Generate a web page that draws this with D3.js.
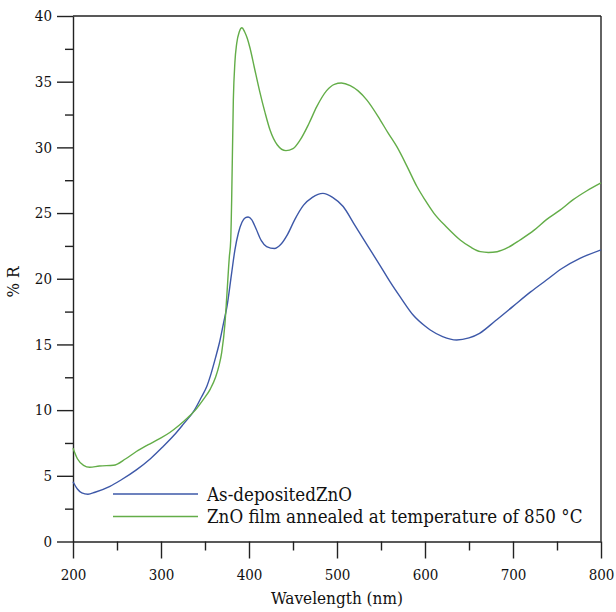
<!DOCTYPE html>
<html>
<head>
<meta charset="utf-8">
<script src="https://cdn.jsdelivr.net/npm/d3@7"></script>
<style>
  body { margin: 0; background: #fff; }
  .tick text { font-size: 15px; fill: #111; }
  .domain, .tick line { stroke: #222; stroke-width: 1.4; }
</style>
</head>
<body>
<svg width="616" height="612"></svg>
<script>
// As-deposited ZnO
const asDepWl = [200, 205, 210, 217, 225, 242, 255, 272, 288, 302, 315, 325, 338, 346, 352, 357, 362, 367, 371, 375, 380, 384, 388, 392, 396, 399, 403, 408, 414, 420, 429, 436, 444, 452, 462, 472, 484, 495, 507, 520, 534, 549, 560, 572, 587, 600, 606, 620, 636, 650, 662, 680, 700, 720, 738, 756, 776, 800];
const asDepR = [4.55, 4.0, 3.7, 3.6, 3.75, 4.2, 4.7, 5.45, 6.3, 7.2, 8.1, 8.9, 10.0, 11.0, 11.8, 12.8, 14.0, 15.3, 16.6, 17.9, 20.3, 22.2, 23.5, 24.3, 24.65, 24.7, 24.5, 23.8, 22.9, 22.45, 22.3, 22.6, 23.4, 24.5, 25.6, 26.2, 26.5, 26.2, 25.5, 24.1, 22.6, 21.0, 19.8, 18.6, 17.2, 16.4, 16.1, 15.6, 15.34, 15.5, 15.85, 16.8, 17.9, 19.0, 19.9, 20.8, 21.55, 22.2];

// annealed at 850 °C
const annWl = [200, 205, 212, 219, 230, 246, 260, 272, 285, 299, 310, 321, 330, 339, 348, 356, 362, 366, 369, 372.7, 374.7, 377.7, 379.2, 380.3, 382.2, 384, 386, 389, 392, 395, 398, 401, 406, 412, 418, 424, 432, 442, 450, 458, 468, 477, 488, 497, 505, 515, 524, 534, 549, 558, 568, 580, 591, 600, 610, 625, 640, 652, 663, 672, 682, 695, 708, 724, 738, 753, 768, 784, 800];
const annR = [7.1, 6.3, 5.8, 5.65, 5.75, 5.8, 6.3, 6.85, 7.35, 7.85, 8.3, 8.87, 9.4, 10.0, 10.8, 11.6, 12.5, 13.4, 14.4, 16.6, 18.6, 21.7, 22.9, 26.0, 33.6, 36.5, 37.9, 38.8, 39.1, 38.8, 38.3, 37.6, 36.1, 34.3, 32.7, 31.3, 30.2, 29.75, 29.9, 30.55, 31.8, 33.1, 34.3, 34.8, 34.9, 34.7, 34.3, 33.6, 32.1, 31.1, 30.05, 28.5, 27.0, 26.0, 25.0, 23.9, 22.95, 22.4, 22.06, 22.0, 22.06, 22.4, 22.95, 23.7, 24.5, 25.2, 26.0, 26.7, 27.3];

const seriesNames = ['As-depositedZnO', 'ZnO film annealed at temperature of 850 °C'];
const seriesColors = ['#3d58a8', '#63ad48'];

const xTicks = [200, 300, 400, 500, 600, 700, 800];
const xMinor = [250, 350, 450, 550, 650, 750];
const yTicks = [0, 5, 10, 15, 20, 25, 30, 35, 40];
const yMinor = [2.5, 7.5, 12.5, 17.5, 22.5, 27.5, 32.5, 37.5];

const serif = '"DejaVu Serif Condensed", "DejaVu Serif", serif';

const svg = d3.select('svg');
const margin = {top: 16, right: 15, bottom: 70.5, left: 73};
const width = +svg.attr('width');
const height = +svg.attr('height');
const innerWidth = width - margin.left - margin.right;
const innerHeight = height - margin.top - margin.bottom;

const g = svg.append('g')
  .attr('transform', `translate(${margin.left},${margin.top})`);

const xScale = d3.scaleLinear().domain([200, 800]).range([0, innerWidth]);
const yScale = d3.scaleLinear().domain([0, 40]).range([innerHeight, 0]);

// frame top/right
g.append('line').attr('x1', 0).attr('x2', innerWidth).attr('y1', 0).attr('y2', 0)
  .attr('stroke', '#222').attr('stroke-width', 1.4);
g.append('line').attr('x1', innerWidth).attr('x2', innerWidth).attr('y1', 0).attr('y2', innerHeight)
  .attr('stroke', '#222').attr('stroke-width', 1.4);

// minor ticks
const xm = g.append('g').attr('transform', `translate(0,${innerHeight})`)
  .call(d3.axisBottom(xScale).tickValues(xMinor).tickSize(9).tickFormat(''));
xm.select('.domain').remove();
xm.selectAll('text').remove();
const ym = g.append('g')
  .call(d3.axisLeft(yScale).tickValues(yMinor).tickSize(8).tickFormat(''));
ym.select('.domain').remove();
ym.selectAll('text').remove();

// major ticks
g.append('g').attr('transform', `translate(0,${innerHeight})`)
  .call(d3.axisBottom(xScale).tickValues(xTicks).tickSize(17).tickSizeOuter(0).tickPadding(11))
  .attr('font-family', serif);
g.append('g')
  .call(d3.axisLeft(yScale).tickValues(yTicks).tickSize(16).tickSizeOuter(0).tickPadding(5))
  .attr('font-family', serif);

// curves
const series = [
  asDepWl.map((w, i) => ({w, r: asDepR[i]})),
  annWl.map((w, i) => ({w, r: annR[i]}))
];
const line = d3.line()
  .x(d => xScale(d.w))
  .y(d => yScale(d.r))
  .curve(d3.curveMonotoneX);

series.forEach((s, i) => {
  g.append('path')
    .attr('d', line(s))
    .attr('fill', 'none')
    .attr('stroke', seriesColors[i])
    .attr('stroke-width', 1.4);
});

// legend
const legend = g.append('g').attr('transform', 'translate(40,478)');
seriesNames.forEach((name, i) => {
  const y = i * 22.5;
  legend.append('line').attr('x1', 0).attr('x2', 85).attr('y1', y).attr('y2', y)
    .attr('stroke', seriesColors[i]).attr('stroke-width', 1.4);
  legend.append('text').attr('x', 94).attr('y', y).attr('dy', '0.36em')
    .style('font-family', serif).attr('font-size', 18.6).attr('fill', '#111').text(name);
});

// axis labels
g.append('text')
  .attr('x', innerWidth / 2).attr('y', innerHeight + 62)
  .attr('text-anchor', 'middle').style('font-family', serif)
  .attr('font-size', 17).attr('fill', '#111')
  .text('Wavelength (nm)');
g.append('text')
  .attr('transform', 'rotate(-90)')
  .attr('x', -(282 - margin.top)).attr('y', -54)
  .attr('text-anchor', 'middle').style('font-family', serif)
  .attr('font-size', 17).attr('fill', '#111')
  .text('% R');
</script>
</body>
</html>
